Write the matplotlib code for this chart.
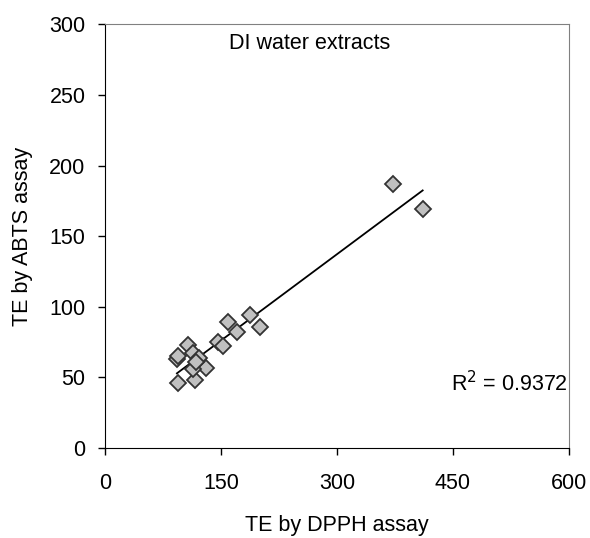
import numpy as np
import matplotlib
matplotlib.use("Agg")
import matplotlib.pyplot as plt

plt.rcParams["font.family"] = ["Liberation Sans", "DejaVu Sans"]

# TE values
dpph = [94, 116, 93, 95, 108, 114, 122, 131, 114, 118, 146, 153, 159, 171, 187, 200, 373, 411]
abts = [46, 48, 63, 65, 73, 67, 64, 57, 56, 61, 75, 72, 89, 82, 94, 86, 187, 169]
x_ticks = [0, 150, 300, 450, 600]
y_ticks = [0, 50, 100, 150, 200, 250, 300]
title_text = "DI water extracts"
r2_text = "R$^2$ = 0.9372"

fs = 15.5

fig = plt.figure(figsize=(5.9, 5.38), dpi=100)
ax = fig.add_axes([0.178, 0.167, 0.786, 0.788])

# linear fit drawn over the data range
slope, icpt = np.polyfit(dpph, abts, 1)
xs = np.array([min(dpph), max(dpph)])
ax.plot(xs, slope * xs + icpt, color="black", lw=1.3, zorder=1)

ax.plot(dpph, abts, linestyle="none", marker="D", ms=8,
        mfc="#c0c0c0", mec="#333333", mew=1.3, zorder=2)

ax.set_xlim(0, 600)
ax.set_ylim(0, 300)
ax.set_xticks(x_ticks)
ax.set_yticks(y_ticks)
ax.tick_params(direction="out", length=5, labelsize=fs, width=1)
ax.tick_params(axis="x", pad=13)
ax.tick_params(axis="y", pad=9)

for s in ["left", "bottom"]:
    ax.spines[s].set_color("black")
for s in ["right", "top"]:
    ax.spines[s].set_color("#808080")

ax.set_xlabel("TE by DPPH assay", fontsize=fs, labelpad=15)
ax.set_ylabel("TE by ABTS assay", fontsize=fs, labelpad=12)

ax.text(160, 286, title_text, fontsize=fs, ha="left", va="center")
ax.text(448, 46, r2_text, fontsize=fs, ha="left", va="center")

fig.savefig("out.png", dpi=100)
